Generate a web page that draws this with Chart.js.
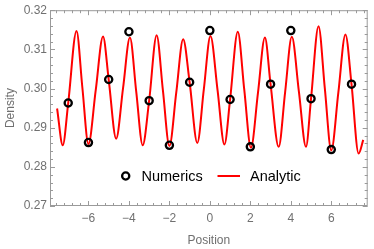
<!DOCTYPE html>
<html lang="en">
<head>
    <meta charset="UTF-8">
    <title>Density vs Position</title>
    <script src="https://cdn.jsdelivr.net/npm/chart.js"></script>
    <style>
        body {
            margin: 0;
            background: #fff;
        }
        #wrap {
            width: 374px;
            height: 249px;
            position: relative;
        }
    </style>
</head>
<body>
    <div id="wrap"><canvas id="grafico"></canvas></div>

    <script>
        // numerics: circles at integer positions
        const numericsX = [-7, -6, -5, -4, -3, -2, -1, 0, 1, 2, 3, 4, 5, 6, 7];
        const numericsY = [0.2963, 0.2862, 0.3023, 0.3145, 0.2969, 0.2855, 0.3016, 0.3148,
                           0.2972, 0.2851, 0.3011, 0.3148, 0.2974, 0.2844, 0.3011];

        // analytic curve, read at peaks, troughs and crossings
        const analyticX = [-7.55, -7.27, -7.00, -6.59, -6.30, -6.00, -5.64, -5.28, -5.00, -4.63,
                           -4.29, -3.95, -3.64, -3.32, -3.00, -2.63, -2.32, -2.00, -1.66, -1.32,
                           -1.00, -0.62, -0.30, 0.03, 0.38, 0.72, 1.00, 1.38, 1.70, 2.03,
                           2.38, 2.72, 3.00, 3.40, 3.72, 4.05, 4.40, 4.75, 5.00, 5.37,
                           5.68, 6.00, 6.35, 6.70, 7.00, 7.35, 7.58];
        const analyticY = [0.2949, 0.2855, 0.2963, 0.3147, 0.3002, 0.2858, 0.2996, 0.3133, 0.3023, 0.2872,
                           0.3001, 0.3130, 0.2993, 0.2855, 0.2969, 0.3136, 0.2995, 0.2853, 0.2990, 0.3126,
                           0.3016, 0.2861, 0.2997, 0.3134, 0.2996, 0.2857, 0.2972, 0.3145, 0.2997, 0.2849,
                           0.2990, 0.3130, 0.3011, 0.2851, 0.2991, 0.3132, 0.2992, 0.2851, 0.2974, 0.3159,
                           0.3001, 0.2842, 0.2990, 0.3138, 0.3011, 0.2834, 0.2869];

        const xTicks = [-6, -4, -2, 0, 2, 4, 6];
        const yTicks = [0.27, 0.28, 0.29, 0.30, 0.31, 0.32];

        const grigio = '#9a9a9a';
        const testoGrigio = '#707070';
        const famiglia = '"Liberation Sans", Arial, sans-serif';

        // frame with inward major/minor ticks on all four sides
        const cornice = {
            id: 'cornice',
            afterDraw(chart) {
                const {ctx, chartArea: a, scales: {x, y}} = chart;
                ctx.save();
                ctx.strokeStyle = grigio;
                ctx.lineWidth = 1;
                ctx.strokeRect(a.left + 0.5, a.top + 0.5, a.right - a.left - 1, a.bottom - a.top - 1);

                const segno = (px1, py1, px2, py2) => {
                    ctx.beginPath();
                    ctx.moveTo(px1, py1);
                    ctx.lineTo(px2, py2);
                    ctx.stroke();
                };

                for (let v = -8; v <= 8.001; v += 0.4) {
                    const px = Math.round(x.getPixelForValue(v)) + 0.5;
                    if (px < a.left || px > a.right) continue;
                    const major = Math.abs(v / 2 - Math.round(v / 2)) < 1e-6;
                    const len = major ? 5 : 3;
                    segno(px, a.bottom, px, a.bottom - len);
                    segno(px, a.top, px, a.top + len);
                }
                for (let i = 0; i <= 25; i++) {
                    const v = 0.27 + i * 0.002;
                    const py = Math.round(y.getPixelForValue(v)) + 0.5;
                    const len = i % 5 === 0 ? 5 : 3;
                    segno(a.left, py, a.left + len, py);
                    segno(a.right, py, a.right - len, py);
                }
                ctx.restore();
            }
        };

        // legend inside the plot area
        const legenda = {
            id: 'legenda',
            afterDraw(chart) {
                const {ctx, chartArea: a} = chart;
                const ds = chart.data.datasets;
                const cy = a.bottom - 30;
                ctx.save();
                ctx.font = '14.5px ' + famiglia;
                ctx.textBaseline = 'middle';
                ctx.fillStyle = '#000';

                ctx.beginPath();
                ctx.arc(a.left + 75.7, cy, 3.6, 0, Math.PI * 2);
                ctx.lineWidth = 2.3;
                ctx.strokeStyle = '#000';
                ctx.stroke();
                ctx.fillText(ds[0].label, a.left + 91.5, cy + 0.5);

                ctx.beginPath();
                ctx.moveTo(a.left + 167.5, cy);
                ctx.lineTo(a.left + 190, cy);
                ctx.lineWidth = 2;
                ctx.strokeStyle = '#ff0000';
                ctx.stroke();
                ctx.fillText(ds[1].label, a.left + 200, cy + 0.5);
                ctx.restore();
            }
        };

        const ctx = document.getElementById('grafico').getContext('2d');

        new Chart(ctx, {
            type: 'scatter',
            data: {
                datasets: [
                    {
                        label: 'Numerics',
                        data: numericsX.map((v, i) => ({x: v, y: numericsY[i]})),
                        pointRadius: 3.6,
                        pointBorderWidth: 2.3,
                        pointBorderColor: '#000',
                        pointBackgroundColor: 'rgba(0,0,0,0)',
                        showLine: false
                    },
                    {
                        label: 'Analytic',
                        data: analyticX.map((v, i) => ({x: v, y: analyticY[i]})),
                        showLine: true,
                        borderColor: '#ff0000',
                        borderWidth: 2,
                        pointRadius: 0,
                        cubicInterpolationMode: 'monotone',
                        fill: false
                    }
                ]
            },
            options: {
                responsive: true,
                maintainAspectRatio: false,
                animation: false,
                layout: {
                    padding: {left: 0, right: 3, top: 7, bottom: 0}
                },
                plugins: {
                    legend: {display: false},
                    tooltip: {enabled: false}
                },
                scales: {
                    x: {
                        type: 'linear',
                        min: -7.9,
                        max: 7.8,
                        afterBuildTicks: s => { s.ticks = xTicks.map(v => ({value: v})); },
                        afterFit: s => { s.height = 43; },
                        grid: {display: false, drawTicks: false},
                        border: {display: false},
                        ticks: {
                            padding: 5,
                            color: testoGrigio,
                            font: {family: famiglia, size: 12},
                            maxRotation: 0,
                            callback: v => (v < 0 ? '\u2212' + Math.abs(v) : String(v))
                        },
                        title: {
                            display: true,
                            text: 'Position',
                            color: testoGrigio,
                            font: {family: famiglia, size: 12},
                            padding: {top: 0, bottom: 1}
                        }
                    },
                    y: {
                        type: 'linear',
                        min: 0.27,
                        max: 0.32,
                        afterBuildTicks: s => { s.ticks = yTicks.map(v => ({value: v})); },
                        afterFit: s => { s.width = 50; },
                        grid: {display: false, drawTicks: false},
                        border: {display: false},
                        ticks: {
                            padding: 3,
                            color: testoGrigio,
                            font: {family: famiglia, size: 12},
                            callback: v => v.toFixed(2)
                        },
                        title: {
                            display: true,
                            text: 'Density',
                            color: testoGrigio,
                            font: {family: famiglia, size: 12},
                            padding: {top: 3, bottom: 0}
                        }
                    }
                }
            },
            plugins: [cornice, legenda]
        });
    </script>
</body>
</html>
